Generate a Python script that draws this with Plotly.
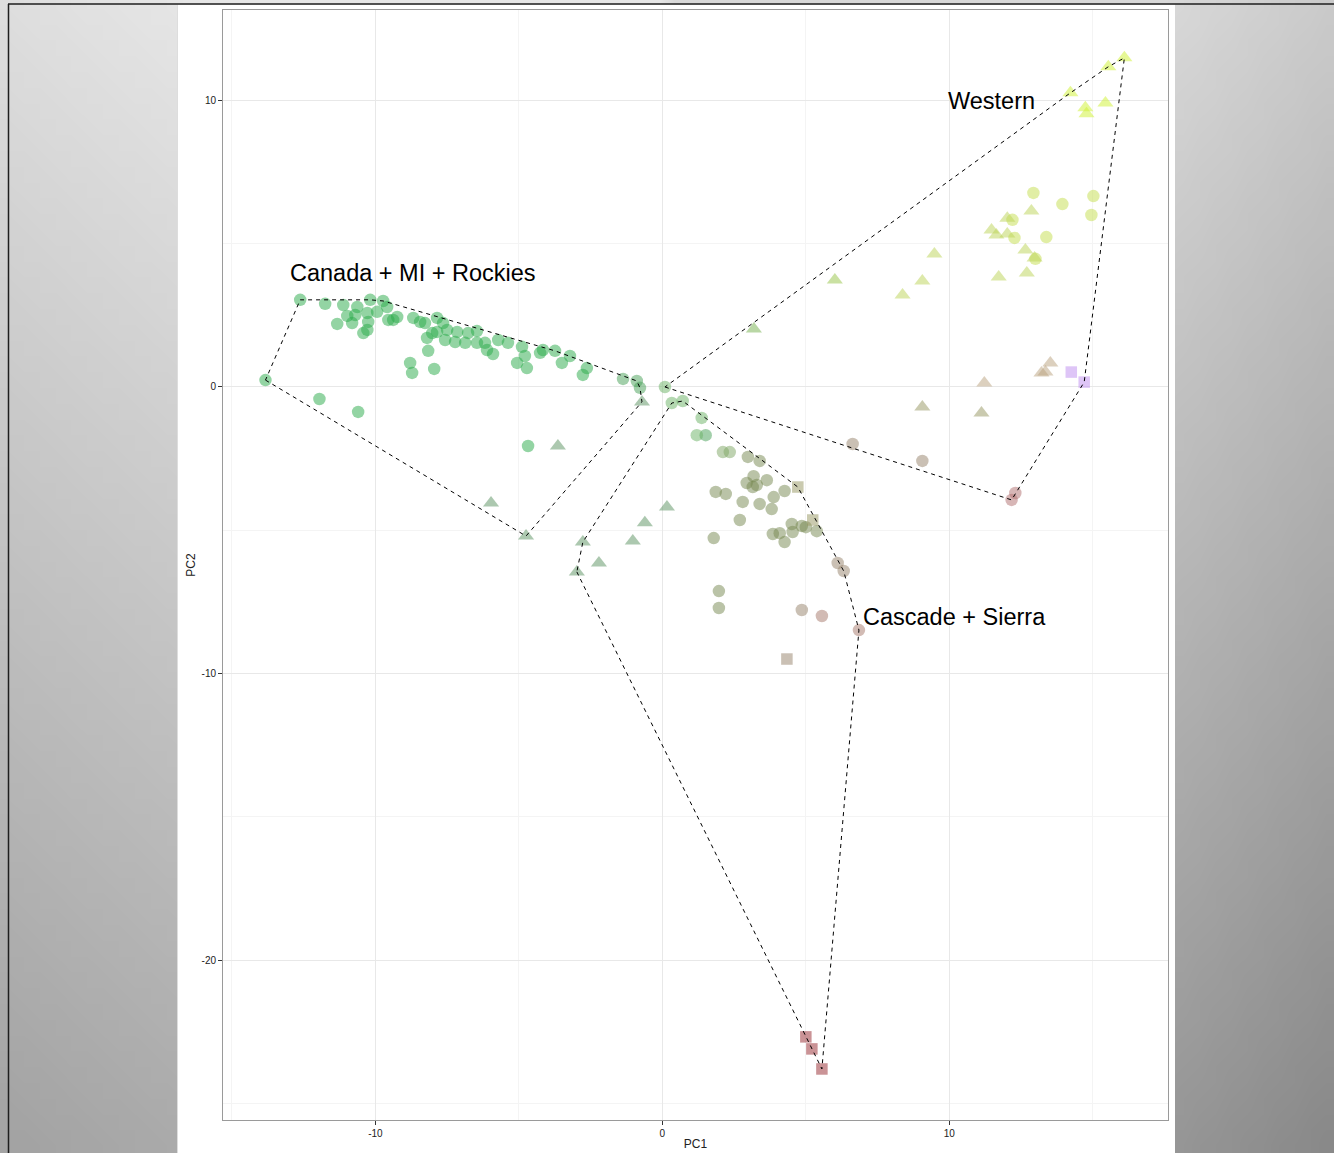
import base64
import struct
import zlib

import plotly.graph_objects as go

# ---------------------------------------------------------------- data
# Canada + MI + Rockies group
CAN_PC1 = [-12.62, -11.75, -11.12, -10.63, -10.18, -9.73, -9.59, -10.98, -10.70, -10.28,
           -9.94, -11.33, -10.81, -10.25, -10.28, -10.42, -9.55, -9.38, -9.24, -8.68,
           -8.44, -8.27, -7.85, -7.64, -8.02, -7.85, -7.50, -7.15, -6.77, -6.46,
           -8.20, -7.57, -7.22, -6.87, -6.46, -6.18, -6.11, -5.90, -5.72, -5.38,
           -4.89, -4.79, -5.06, -4.72, -4.26, -4.16, -3.74, -3.50, -3.22, -2.63,
           -2.77, -8.16, -8.79, -8.72, -7.95, -1.37, -0.89, -0.78, -13.83, -11.95,
           -10.60, -4.68, -0.71, -3.64, -5.97, -4.75]
CAN_PC2 = [3.04, 2.90, 2.86, 2.79, 3.04, 3.00, 2.79, 2.48, 2.51, 2.58,
           2.62, 2.20, 2.23, 2.27, 1.99, 1.88, 2.34, 2.34, 2.44, 2.41,
           2.27, 2.23, 2.41, 2.23, 1.88, 1.92, 1.99, 1.92, 1.88, 1.95,
           1.71, 1.64, 1.57, 1.54, 1.54, 1.54, 1.29, 1.15, 1.64, 1.54,
           1.40, 1.08, 0.84, 0.66, 1.19, 1.29, 1.26, 0.84, 1.08, 0.66,
           0.42, 1.26, 0.84, 0.49, 0.63, 0.28, 0.21, -0.03, 0.24, -0.42,
           -0.87, -2.06, -0.52, -2.06, -4.05, -5.20]
CAN_SHAPE = ("cccccccccc" "cccccccccc" "cccccccccc" "cccccccccc" "cccccccccc"
             "cccccccccc" "cctttt")
CAN_TONE = ["g1", "g1", "g1", "g1", "g1", "g1", "g1", "g1", "g1", "g1",
            "g1", "g1", "g1", "g1", "g1", "g1", "g1", "g1", "g1", "g1",
            "g1", "g1", "g1", "g1", "g1", "g1", "g1", "g1", "g1", "g1",
            "g1", "g1", "g1", "g1", "g1", "g1", "g1", "g1", "g1", "g1",
            "g1", "g1", "g1", "g1", "g1", "g1", "g1", "g1", "g1", "g1",
            "g1", "g1", "g1", "g1", "g1", "g2", "g2", "g2", "g1", "g1",
            "g1", "g1", "gt", "gt", "gt", "gt"]

# Cascade + Sierra group
CAS_PC1 = [0.33, 0.71, 1.37, 1.20, 1.51, 2.11, 2.35, 2.98, 3.39, 3.18,
           2.94, 3.15, 3.29, 3.64, 4.26, 3.88, 1.86, 2.21, 2.80, 3.39,
           3.81, 2.70, 4.51, 4.86, 5.00, 3.85, 4.09, 4.54, 5.38, 4.26,
           1.79, 6.11, 6.32, 1.97, 1.97, 4.86, 5.56, 6.85,
           4.72, 5.24, 4.34, 5.00, 5.21, 5.56,
           0.16, -0.61, -1.03, -2.77, -2.21, -2.98]
CAS_PC2 = [-0.56, -0.49, -1.08, -1.68, -1.68, -2.27, -2.27, -2.44, -2.58, -3.11,
           -3.35, -3.49, -3.42, -3.25, -3.63, -3.84, -3.66, -3.73, -4.01, -4.08,
           -4.26, -4.64, -4.78, -4.85, -4.89, -5.13, -5.10, -5.06, -5.03, -5.41,
           -5.27, -6.14, -6.42, -7.12, -7.71, -7.78, -7.99, -8.48,
           -3.49, -4.64, -9.49, -22.67, -23.09, -23.79,
           -4.19, -4.74, -5.37, -5.41, -6.14, -6.45]
CAS_SHAPE = ("cccccccccc" "cccccccccc" "cccccccccc" "cccccccc"
             "ssssss" "tttttt")
CAS_TONE = ["lg", "lg", "lg", "lg", "g2", "lo", "lo", "ol", "ol", "ol",
            "ol", "ol", "ol", "ol", "ol", "ol", "ol", "ol", "ol", "ol",
            "ol", "ol", "ol", "ol", "ol", "ol", "ol", "ol", "ol", "ol",
            "ol", "ta", "ta", "ol", "ol", "ta", "pt", "pt",
            "ot", "ot", "ta", "rd", "rd", "rd",
            "gt", "gt", "gt", "gt", "gt", "gt"]

# Western group
WES_PC1 = [0.09, 12.93, 13.94, 15.02, 14.95, 12.20, 12.27, 13.38, 13.00, 9.06,
           6.63, 12.30, 12.17,
           3.19, 6.01, 16.10, 15.54, 14.22, 14.74, 14.78, 15.44, 12.86, 12.02,
           11.47, 11.64, 12.02, 12.65, 12.97, 12.70, 11.72, 9.48, 9.06, 8.37,
           13.52, 13.21, 13.35, 11.22, 9.06, 11.12,
           14.25, 14.70]
WES_PC2 = [0.00, 6.77, 6.38, 6.66, 6.00, 5.83, 5.20, 5.23, 4.47, -2.58,
           -1.99, -3.70, -3.94,
           2.02, 3.73, 11.48, 11.17, 10.26, 9.74, 9.53, 9.91, 6.14, 5.89,
           5.48, 5.30, 5.34, 4.78, 4.50, 3.98, 3.84, 4.64, 3.70, 3.21,
           0.84, 0.49, 0.52, 0.14, -0.70, -0.91,
           0.52, 0.17]
WES_SHAPE = ("ccccccccccccc"
             "tttttttttttttttttttt" "tttttt"
             "ss")
WES_TONE = ["lg", "yg", "yg", "yg", "yg", "yg", "yg", "yg", "yg", "ta",
            "ta", "pk", "pk",
            "gy", "gy2", "yl", "yl", "yl", "yl", "yl", "yl", "yt", "yt",
            "yt", "yt", "yt", "yt", "yt", "yt", "yt", "yt", "yt", "yt",
            "lt", "lt", "lt", "lt", "ot", "ot",
            "pu", "pu"]

GROUPS = [
    ("Canada + MI + Rockies", CAN_PC1, CAN_PC2, CAN_SHAPE, CAN_TONE),
    ("Cascade + Sierra", CAS_PC1, CAS_PC2, CAS_SHAPE, CAS_TONE),
    ("Western", WES_PC1, WES_PC2, WES_SHAPE, WES_TONE),
]

# group labels and where they sit (data coords)
LABELS = ["Canada + MI + Rockies", "Western", "Cascade + Sierra"]
LABEL_PC1 = [-8.68, 11.46, 10.19]
LABEL_PC2 = [3.98, 9.98, -8.02]

X_TICKS = [-10, 0, 10]
Y_TICKS = [-20, -10, 0, 10]

# ---------------------------------------------------------------- styles
TONE_COLORS = {
    "g1": "rgb(40,170,72)",
    "g2": "rgb(70,160,85)",
    "gt": "rgb(90,145,95)",
    "lg": "rgb(105,178,100)",
    "lo": "rgb(125,165,100)",
    "ol": "rgb(118,135,80)",
    "ta": "rgb(150,130,105)",
    "pt": "rgb(165,120,105)",
    "ot": "rgb(150,150,95)",
    "rd": "rgb(150,40,45)",
    "yg": "rgb(195,222,75)",
    "yl": "rgb(205,242,45)",
    "yt": "rgb(188,212,85)",
    "gy": "rgb(115,175,75)",
    "gy2": "rgb(150,195,70)",
    "lt": "rgb(185,162,125)",
    "pk": "rgb(175,110,110)",
    "pu": "rgb(190,140,240)",
}
SHAPE_SYMBOL = {"c": "circle", "t": "triangle-up", "s": "square"}
SHAPE_SIZE = {"c": 12.5, "t": 14, "s": 11.5}
MARKER_OPACITY = 0.5
FONT = "Liberation Sans, Arial, sans-serif"

# pixel geometry of the figure
FIG_W, FIG_H = 1334, 1153
M_L, M_R, M_T, M_B = 223, 166, 10, 33
PLOT_W = FIG_W - M_L - M_R
PLOT_H = FIG_H - M_T - M_B


def px_x(px):
    return (px - M_L) / PLOT_W


def px_y(py):
    return (FIG_H - M_B - py) / PLOT_H


def convex_hull(points):
    pts = sorted(set(points))

    def cross(o, a, b):
        return (a[0] - o[0]) * (b[1] - o[1]) - (a[1] - o[1]) * (b[0] - o[0])

    lower, upper = [], []
    for p in pts:
        while len(lower) >= 2 and cross(lower[-2], lower[-1], p) <= 0:
            lower.pop()
        lower.append(p)
    for p in reversed(pts):
        while len(upper) >= 2 and cross(upper[-2], upper[-1], p) <= 0:
            upper.pop()
        upper.append(p)
    return lower[:-1] + upper[:-1]


def gradient_png(w, h):
    def gray(px, py):
        t = py / FIG_H
        if px < FIG_W / 2:
            g = 222 + 8 * min(px, 177) / 177 - 60 * t
        else:
            g = 216 - 14 * (max(px, 1175) - 1175) / 159 - 66 * t
        return max(0, min(255, int(round(g))))

    rows = []
    for j in range(h):
        py = (j + 0.5) * FIG_H / h
        rows.append(b"\x00" + bytes(gray((i + 0.5) * FIG_W / w, py) for i in range(w)))
    raw = b"".join(rows)

    def chunk(tag, data):
        return (struct.pack(">I", len(data)) + tag + data
                + struct.pack(">I", zlib.crc32(tag + data) & 0xFFFFFFFF))

    png = (b"\x89PNG\r\n\x1a\n"
           + chunk(b"IHDR", struct.pack(">IIBBBBB", w, h, 8, 0, 0, 0, 0))
           + chunk(b"IDAT", zlib.compress(raw, 9))
           + chunk(b"IEND", b""))
    return "data:image/png;base64," + base64.b64encode(png).decode()


# ---------------------------------------------------------------- figure
fig = go.Figure()

# markers, one trace per shape/tone combination
buckets = {}
for _, pc1, pc2, shp, tone in GROUPS:
    for x, y, s, t in zip(pc1, pc2, shp, tone):
        buckets.setdefault((s, t), ([], []))
        buckets[(s, t)][0].append(x)
        buckets[(s, t)][1].append(y)

for (s, t), (xs, ys) in buckets.items():
    fig.add_trace(go.Scatter(
        x=xs, y=ys, mode="markers", showlegend=False, hoverinfo="skip",
        marker=dict(symbol=SHAPE_SYMBOL[s], size=SHAPE_SIZE[s], color=TONE_COLORS[t],
                    opacity=MARKER_OPACITY, line=dict(width=0)),
    ))

# dashed convex hulls
for name, pc1, pc2, _, _ in GROUPS:
    hull = convex_hull(list(zip(pc1, pc2)))
    hull.append(hull[0])
    fig.add_trace(go.Scatter(
        x=[p[0] for p in hull], y=[p[1] for p in hull], mode="lines",
        showlegend=False, hoverinfo="skip", name=name,
        line=dict(color="black", width=1, dash="4px,4px"),
    ))

for txt, x, y in zip(LABELS, LABEL_PC1, LABEL_PC2):
    fig.add_annotation(x=x, y=y, xref="x", yref="y", text=txt, showarrow=False,
                       font=dict(family=FONT, size=23.5, color="black"))

axis_common = dict(
    showgrid=True, gridcolor="#e8e8e8", gridwidth=1,
    zeroline=False, showline=True, mirror=True, linecolor="#9a9a9a", linewidth=1,
    ticks="outside", ticklen=4, tickwidth=1, tickcolor="#333333",
    tickfont=dict(family=FONT, size=10, color="#222222"),
)

fig.update_layout(
    width=FIG_W, height=FIG_H,
    margin=dict(l=M_L, r=M_R, t=M_T, b=M_B, autoexpand=False),
    paper_bgcolor="white", plot_bgcolor="white",
    template="none",
    xaxis=dict(range=[-15.31, 17.62], tickmode="array", tickvals=X_TICKS,
               ticktext=[str(v) for v in X_TICKS],
               minor=dict(tickmode="array", tickvals=[-15, -5, 5, 15], showgrid=True,
                          gridcolor="#f4f4f4", ticks=""),
               title=dict(text="PC1", standoff=1,
                          font=dict(family=FONT, size=12, color="#222222")),
               **axis_common),
    yaxis=dict(range=[-25.57, 13.15], tickmode="array", tickvals=Y_TICKS,
               ticktext=[str(v) for v in Y_TICKS],
               minor=dict(tickmode="array", tickvals=[-25, -15, -5, 5], showgrid=True,
                          gridcolor="#f4f4f4", ticks=""),
               title=dict(text="PC2", standoff=3,
                          font=dict(family=FONT, size=12, color="#222222")),
               **axis_common),
    images=[dict(source=gradient_png(84, 73), xref="paper", yref="paper",
                 x=px_x(0), y=px_y(0), sizex=FIG_W / PLOT_W, sizey=FIG_H / PLOT_H,
                 xanchor="left", yanchor="top", sizing="stretch", layer="below")],
    shapes=[
        dict(type="rect", xref="paper", yref="paper", layer="below",
             x0=px_x(177), x1=px_x(1175), y0=px_y(FIG_H), y1=px_y(4.5),
             fillcolor="white", line=dict(width=0)),
        dict(type="line", xref="paper", yref="paper", layer="below",
             x0=px_x(177.5), x1=px_x(177.5), y0=px_y(FIG_H), y1=px_y(4.5),
             line=dict(color="#dddddd", width=1)),
        dict(type="line", xref="paper", yref="paper", layer="below",
             x0=px_x(8), x1=px_x(FIG_W), y0=px_y(4), y1=px_y(4),
             line=dict(color="#1e1e1e", width=1.5)),
        dict(type="line", xref="paper", yref="paper", layer="below",
             x0=px_x(8.5), x1=px_x(8.5), y0=px_y(FIG_H), y1=px_y(4),
             line=dict(color="#1e1e1e", width=1.5)),
    ],
)

fig.write_html(
    "out.html",
    config={"displayModeBar": False},
    post_script="document.body.style.margin='0';document.body.style.overflow='hidden';",
)
